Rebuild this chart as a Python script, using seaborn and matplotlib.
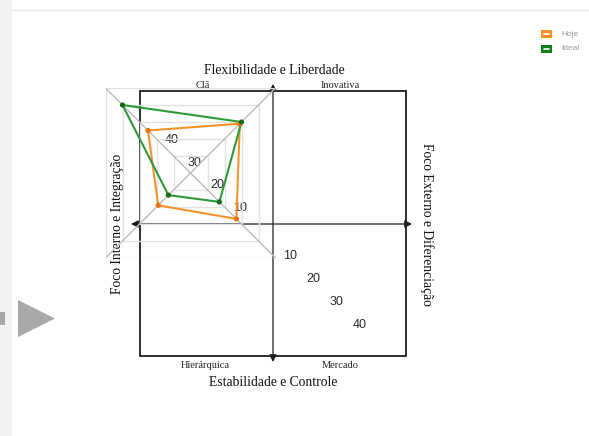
import numpy as np
import pandas as pd
import matplotlib
matplotlib.use("Agg")
import matplotlib.pyplot as plt
from matplotlib.patches import Rectangle, Polygon
import seaborn as sns

# Competing values framework: culture profile per quadrant
quadrantes = ["Clã", "Inovativa", "Mercado", "Hierárquica"]
hoje = [25, 29, 27, 19]
ideal = [40, 30, 17, 13]
series = ["Hoje", "Ideal"]
niveis = [10, 20, 30, 40, 50]
rotulos_escala = ["10", "20", "30", "40"]

sns.set_theme(style="white")
plt.rcParams["font.family"] = ["Liberation Serif", "DejaVu Serif"]

cores = {"Hoje": "#f7922b", "Ideal": "#2f9a35"}
cores_ponto = {"Hoje": "#e8730a", "Ideal": "#0f6a14"}

# each quadrant sits on one diagonal of the radar
sinal = {"Clã": (-1, 1), "Inovativa": (1, 1), "Mercado": (1, -1), "Hierárquica": (-1, -1)}

linhas = []
for nome, vals in zip(series, [hoje, ideal]):
    ordem = list(zip(quadrantes, vals)) + [(quadrantes[0], vals[0])]
    for i, (q, v) in enumerate(ordem):
        sx, sy = sinal[q]
        linhas.append({"serie": nome, "quadrante": q, "ordem": i, "valor": v,
                       "x": sx * v, "y": sy * v})
df = pd.DataFrame(linhas)

W, H = 589, 436
fig = plt.figure(figsize=(W / 100, H / 100), dpi=100)
base = fig.add_axes([0, 0, 1, 1])
base.set_xlim(0, W)
base.set_ylim(H, 0)
base.axis("off")

# page frame elements
base.add_patch(Rectangle((0, 0), 12, H, color="#f2f2f2", lw=0, zorder=0))
base.plot([12, W], [10.5, 10.5], color="#e6e6e6", lw=1, zorder=0)
base.add_patch(Rectangle((0, 312), 5, 13, color="#a8a8a8", lw=0, zorder=1))
base.add_patch(Polygon([(18, 300), (18, 337), (55, 318.5)], closed=True,
                       color="#a9a9a9", lw=0, zorder=1))

# quadrant box and the two axes
base.add_patch(Rectangle((140, 91), 266, 265, fill=False, lw=1.3, ec="#1e1e1e", zorder=2))
seta = dict(arrowstyle="<|-|>,head_length=0.35,head_width=0.18", color="#1e1e1e",
            lw=0.9, shrinkA=0, shrinkB=0)
base.annotate("", xy=(273, 84), xytext=(273, 362), arrowprops=seta, zorder=3)
base.annotate("", xy=(131, 224), xytext=(412, 224), arrowprops=seta, zorder=3)

base.text(274, 70, "Flexibilidade e Liberdade", ha="center", va="center", fontsize=9.8, color="#111")
base.text(273, 382, "Estabilidade e Controle", ha="center", va="center", fontsize=9.8, color="#111")
base.text(118, 224, "Foco Interno e Integração", ha="center", va="center", rotation=90,
          fontsize=9.8, color="#111")
base.text(427, 224, "Foco Externo e Diferenciação", ha="center", va="center", rotation=-90,
          fontsize=9.8, color="#111")

pos_quad = {"Clã": (203, 86), "Inovativa": (340, 86), "Hierárquica": (205, 365), "Mercado": (340, 365)}
for q in quadrantes:
    x, y = pos_quad[q]
    base.text(x, y, q, ha="center", va="center", fontsize=7.5, color="#222")

# radar panel
cx, cy, meio = 190.5, 173, 85
rax = fig.add_axes([(cx - meio) / W, 1 - (cy + meio) / H, 2 * meio / W, 2 * meio / H])
rax.set_xlim(-niveis[-1], niveis[-1])
rax.set_ylim(-niveis[-1], niveis[-1])
rax.axis("off")
rax.patch.set_alpha(0)

for lv in niveis:
    rax.add_patch(Rectangle((-lv, -lv), 2 * lv, 2 * lv, fill=False, ec="#e2e2e2", lw=1, zorder=1))
rax.plot([-niveis[-1], niveis[-1]], [-niveis[-1], niveis[-1]], color="#bdbdbd", lw=1, zorder=1)
rax.plot([-niveis[-1], niveis[-1]], [niveis[-1], -niveis[-1]], color="#bdbdbd", lw=1, zorder=1)

sns.lineplot(data=df, x="x", y="y", hue="serie", palette=cores, sort=False,
             estimator=None, units="serie", lw=1.5, legend=False, ax=rax, zorder=4)
sns.scatterplot(data=df[df["ordem"] < len(quadrantes)], x="x", y="y", hue="serie",
                palette=cores_ponto, s=14, linewidth=0, legend=False, ax=rax, zorder=5)
rax.set_xlim(-niveis[-1], niveis[-1])
rax.set_ylim(-niveis[-1], niveis[-1])

# scale labels
for i, t in enumerate(reversed(rotulos_escala)):
    base.text(172 + 22.7 * i, 140 + 22.5 * i, t, ha="center", va="center",
              fontsize=9, family=["Liberation Sans", "DejaVu Sans"], color="#2a2a2a", zorder=6)
for i, t in enumerate(rotulos_escala):
    base.text(290 + 23.3 * i, 256 + 23 * i, t, ha="center", va="center",
              fontsize=9, family=["Liberation Sans", "DejaVu Sans"], color="#2a2a2a", zorder=6)

# legend
for i, nome in enumerate(series):
    y0 = 30 + 15 * i
    base.add_patch(Rectangle((541, y0), 11, 8, color=cores[nome] if nome == "Hoje" else "#13801d",
                             lw=0, zorder=6))
    base.plot([544, 549], [y0 + 4, y0 + 4], color="white", lw=1.2, zorder=7)
    base.text(561, y0 + 4, nome, ha="left", va="center", fontsize=6,
              family=["Liberation Sans", "DejaVu Sans"], color="#9a9a9a")

fig.savefig("out.png", dpi=100)
